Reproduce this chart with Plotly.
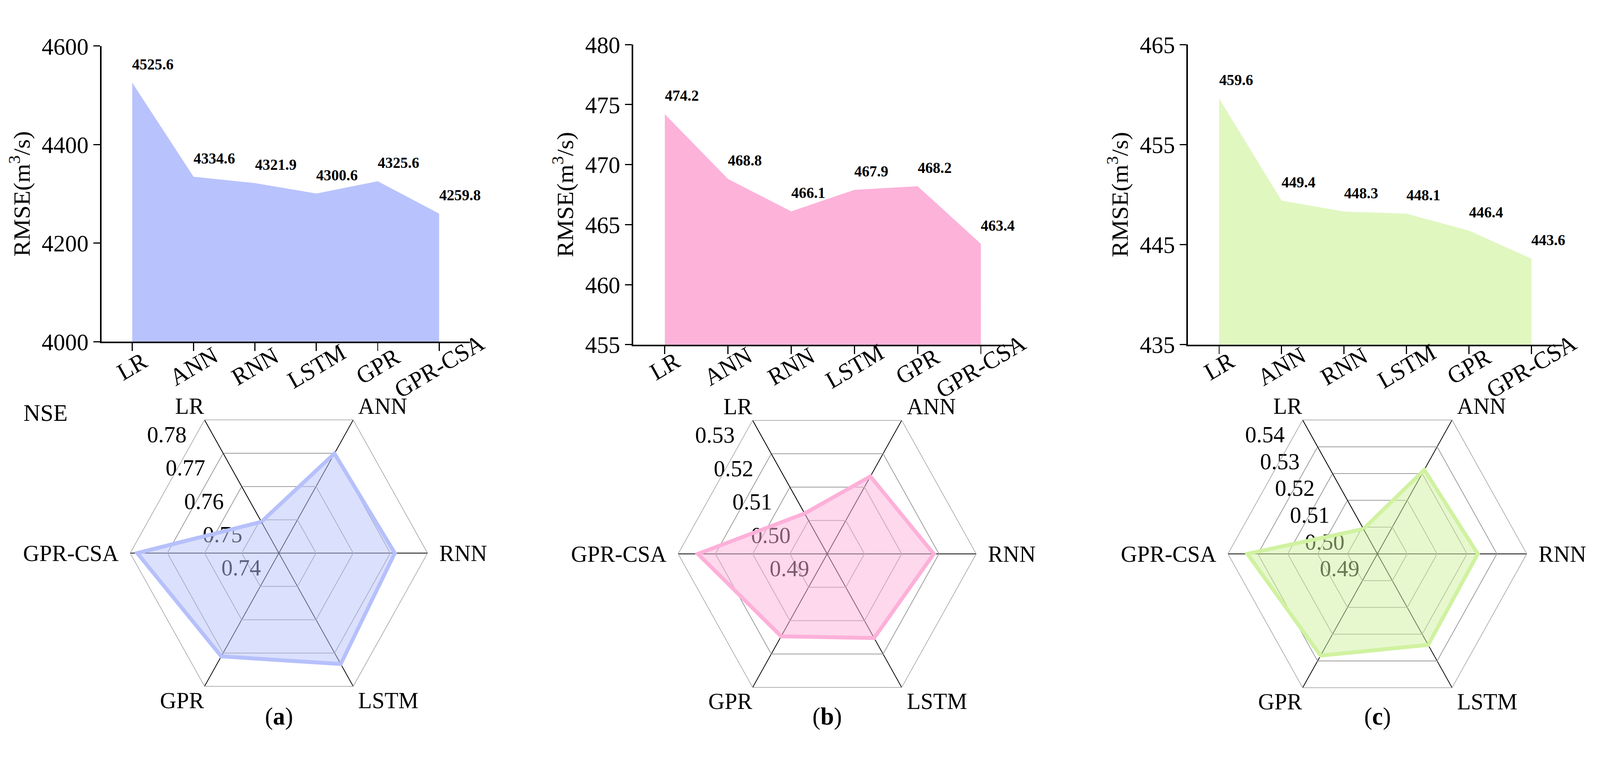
import math
import plotly.graph_objects as go

W, H = 4240, 1980
FONT = "Liberation Serif"

categories = ["LR", "ANN", "RNN", "LSTM", "GPR", "GPR-CSA"]

rmse_a = [4525.6, 4334.6, 4321.9, 4300.6, 4325.6, 4259.8]
rmse_b = [474.2, 468.8, 466.1, 467.9, 468.2, 463.4]
rmse_c = [459.6, 449.4, 448.3, 448.1, 446.4, 443.6]

nse_a = [0.7494, 0.7699, 0.7712, 0.7733, 0.7710, 0.7781]
nse_b = [0.5021, 0.5132, 0.5186, 0.5152, 0.5147, 0.5247]
nse_c = [0.4993, 0.5214, 0.5236, 0.5240, 0.5280, 0.5335]

rmse_ticks_a = [4000, 4200, 4400, 4600]
rmse_ticks_b = [455, 460, 465, 470, 475, 480]
rmse_ticks_c = [435, 445, 455, 465]

nse_range_a = [0.74, 0.78]
nse_range_b = [0.49, 0.53]
nse_range_c = [0.49, 0.54]

panel_letters = ["a", "b", "c"]

colors = ["#B8C2FC", "#FDB2DA", "#E0F7C0"]
radar_line = ["#B6C0FB", "#FDB0D9", "#D0F2A0"]
radar_fill = ["rgba(184,194,252,0.5)", "rgba(253,178,218,0.5)", "rgba(208,242,160,0.5)"]

RADAR_ROTATION = 120  # degrees, first category (LR) at upper-left


def px_x(p):
    return p / W


def px_y(p):
    return 1 - p / H


top_geom = [
    dict(x0=269, x1=1245, y0=88, y1=872),
    dict(x0=1678, x1=2683, y0=84, y1=880),
    dict(x0=3148, x1=4141, y0=84, y1=880),
]
radar_geom = [
    dict(cx=739, cy=1433, r=408),
    dict(cx=2192, cy=1435, r=409),
    dict(cx=3650, cy=1435, r=410),
]

rmse_sets = [rmse_a, rmse_b, rmse_c]
tick_sets = [rmse_ticks_a, rmse_ticks_b, rmse_ticks_c]
nse_sets = [nse_a, nse_b, nse_c]
nse_ranges = [nse_range_a, nse_range_b, nse_range_c]

fig = go.Figure()
annotations = []

for i in range(3):
    sfx = "" if i == 0 else str(i + 1)
    xa, ya = "x" + sfx, "y" + sfx
    g = top_geom[i]
    vals = rmse_sets[i]
    ticks = tick_sets[i]

    fig.add_trace(go.Scatter(
        x=categories, y=vals, mode="lines", fill="tozeroy",
        line=dict(color=colors[i], width=0), fillcolor=colors[i],
        xaxis=xa, yaxis=ya, showlegend=False, hoverinfo="skip"))

    fig.layout["xaxis" + sfx] = dict(
        domain=[px_x(g["x0"]), px_x(g["x1"])], anchor=ya,
        type="category", categoryarray=categories, range=[-0.5, 5.5],
        showline=True, linecolor="black", linewidth=4,
        ticks="outside", ticklen=20, tickwidth=3, tickcolor="black",
        showticklabels=False, showgrid=False, zeroline=False)
    fig.layout["yaxis" + sfx] = dict(
        domain=[px_y(g["y1"]), px_y(g["y0"])], anchor=xa,
        range=[ticks[0], ticks[-1]], tickvals=ticks,
        showline=True, linecolor="black", linewidth=4,
        ticks="outside", ticklen=18, tickwidth=3, tickcolor="black",
        tickfont=dict(family=FONT, size=62, color="black"),
        title=dict(text="RMSE(m<sup>3</sup>/s)", standoff=12,
                   font=dict(family=FONT, size=62, color="black")),
        showgrid=False, zeroline=False)

    for c, v in zip(categories, vals):
        annotations.append(dict(
            x=c, y=v, xref=xa, yref=ya, text="<b>%s</b>" % v,
            showarrow=False, xanchor="left", yanchor="bottom",
            xshift=-2, yshift=23,
            font=dict(family=FONT, size=40, color="black")))
    for c in categories:
        annotations.append(dict(
            x=c, y=px_y(937), xref=xa, yref="paper", text=c,
            showarrow=False, xanchor="center", yanchor="middle",
            textangle=-30,
            font=dict(family=FONT, size=62, color="black")))

    rg = radar_geom[i]
    nse = nse_sets[i]
    pol = "polar" + sfx
    fig.add_trace(go.Scatterpolar(
        r=nse + [nse[0]], theta=categories + [categories[0]],
        mode="lines", fill="toself", fillcolor=radar_fill[i],
        line=dict(color=radar_line[i], width=10),
        subplot=pol, showlegend=False, hoverinfo="skip"))
    fig.layout[pol] = dict(
        domain=dict(x=[px_x(rg["cx"] - rg["r"]), px_x(rg["cx"] + rg["r"])],
                    y=[px_y(rg["cy"] + rg["r"]), px_y(rg["cy"] - rg["r"])]),
        gridshape="linear", bgcolor="rgba(0,0,0,0)",
        angularaxis=dict(
            type="category", categoryarray=categories,
            rotation=RADAR_ROTATION, direction="clockwise",
            showline=True, linecolor="#9a9a9a", linewidth=1.5,
            gridcolor="black", gridwidth=1.5, ticks="",
            showticklabels=False),
        radialaxis=dict(
            range=nse_ranges[i], dtick=0.01, tickformat=".2f",
            angle=RADAR_ROTATION, side="counterclockwise", tickangle=120,
            showline=True, linecolor="black", linewidth=1.5,
            gridcolor="#9a9a9a", gridwidth=1.5, ticks="",
            layer="below traces",
            tickfont=dict(family=FONT, size=60, color="black")))

    # category labels around the radar, placed just outside each spoke end
    n = len(categories)
    for k, c in enumerate(categories):
        th = math.radians(RADAR_ROTATION - 360.0 * k / n)
        vx = rg["cx"] + rg["r"] * math.cos(th)
        vy = rg["cy"] - rg["r"] * math.sin(th)
        s = math.sin(th)
        if abs(s) > 0.1:
            ly = vy - 37 * (1 if s > 0 else -1)
            if math.cos(th) < 0:
                xanc, lx = "right", vx + 8
            else:
                xanc, lx = "left", vx + 4
        else:
            ly = vy
            if math.cos(th) > 0:
                xanc, lx = "left", vx + 15
            else:
                xanc, lx = "right", vx - 15
        annotations.append(dict(
            x=px_x(lx), y=px_y(ly), xref="paper", yref="paper", text=c,
            showarrow=False, xanchor=xanc, yanchor="middle",
            font=dict(family=FONT, size=60, color="black")))

    annotations.append(dict(
        x=px_x(rg["cx"]), y=px_y(1866), xref="paper", yref="paper",
        text="(<b>%s</b>)" % panel_letters[i], showarrow=False,
        xanchor="center", yanchor="middle",
        font=dict(family=FONT, size=64, color="black")))

annotations.append(dict(
    x=px_x(120), y=px_y(1060), xref="paper", yref="paper", text="NSE",
    showarrow=False, xanchor="center", yanchor="middle",
    font=dict(family=FONT, size=62, color="black")))

fig.update_layout(
    width=W, height=H, margin=dict(l=0, r=0, t=0, b=0),
    paper_bgcolor="white", plot_bgcolor="white",
    font=dict(family=FONT, color="black"),
    annotations=annotations, showlegend=False)

# fit the fixed-size figure exactly into the browser viewport
fit_script = """
var gd = document.getElementById('{plot_id}');
document.documentElement.style.overflow = 'hidden';
document.body.style.margin = '0';
document.body.style.padding = '0';
document.body.style.overflow = 'hidden';
var vw = window.innerWidth, vh = window.innerHeight;
gd.style.position = 'fixed';
gd.style.left = '0px';
gd.style.top = '0px';
gd.style.transformOrigin = '0 0';
gd.style.transform = 'scale(' + (vw / %d) + ',' + (vh / %d) + ')';
""" % (W, H)

fig.write_html("out.html", post_script=fit_script,
               config={"displayModeBar": False})
